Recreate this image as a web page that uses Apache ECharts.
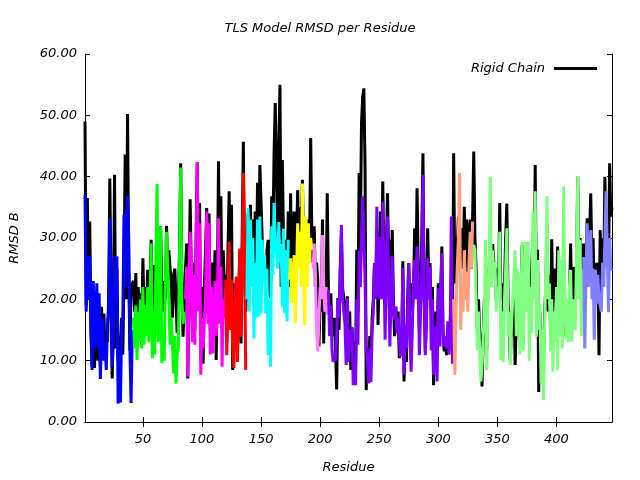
<!DOCTYPE html>
<html>
<head>
<meta charset="utf-8">
<title>TLS Model RMSD per Residue</title>
<script src="https://cdn.jsdelivr.net/npm/echarts@6/dist/echarts.min.js"></script>
<style>
html, body { margin: 0; padding: 0; background: #fff; }
#chart { width: 640px; height: 480px; }
</style>
</head>
<body>
<div id="chart"></div>
<script>
// RMSD B per residue, rigid chain (black), residues 1..447
var rigidChain = [
  49, 19, 36.5, 20, 32.7, 15.5, 9, 17, 8.8, 15,
  12, 10, 14, 9, 18.8, 12, 17.7, 11, 15, 13,
  20, 39.7, 22, 7.1, 16, 40.3, 12, 25, 10, 14,
  12, 17, 11, 24, 43.6, 20, 50.2, 25, 11.7, 22,
  22.6, 23, 18, 24.3, 16, 22, 17, 21, 15, 26.7,
  18, 22, 15, 24.8, 17, 22, 29.7, 20, 25.6, 16,
  22, 24, 17, 21, 31.9, 22, 18, 23, 20, 32,
  25, 28, 25, 22.6, 17, 24, 25, 20, 14.5, 20,
  28, 42.2, 22, 13.9, 20, 20, 29.1, 7.1, 20, 36.3,
  24, 14, 26, 15, 30, 42.4, 22, 35.7, 10, 22,
  9.5, 22, 28, 34.9, 20, 34, 15, 26, 25.3, 18,
  28, 10.1, 22, 42.5, 20, 36.8, 18, 28, 22, 24,
  13, 28, 37.6, 20, 35.4, 8.5, 22.6, 15, 21.5, 12,
  20, 28, 12.8, 30, 45.7, 25, 18, 25, 34, 22,
  35.4, 26, 33, 20, 34.3, 24, 39, 28, 41.9, 35.7,
  29.7, 23, 27, 20, 28, 29.7, 22, 20.2, 36.8, 30,
  43.8, 52, 40, 30, 45, 55, 22, 42.7, 30, 25,
  29.7, 24, 34.3, 22, 37.3, 23.2, 30, 34.3, 25, 30,
  37.8, 27.5, 35, 30, 39.5, 28, 30, 33, 25, 33,
  28, 46.3, 30, 26, 31.9, 22, 26, 23.2, 12.3, 20,
  18, 33, 12.8, 25, 20, 37.3, 21.5, 18, 21, 15,
  14, 17, 12, 5.3, 20.2, 15, 25, 30.7, 22, 20.2,
  18, 16, 20.5, 14, 18, 8.5, 15.3, 10, 13, 9,
  28.1, 18, 40.6, 30, 48.7, 53, 54.4, 41.7, 5.2, 12,
  8.4, 14, 10, 16.9, 20, 25.9, 22, 31.3, 15.8, 25,
  34.3, 21.5, 39.2, 25, 19.3, 28, 37.3, 26, 29.7, 22,
  31.3, 20, 14, 18.8, 15, 18, 10.4, 14, 12, 26.2,
  6.6, 14, 9.8, 20, 25.9, 18, 22.6, 18, 21.5, 31.6,
  22, 38.1, 25, 15, 20, 30, 43.8, 22, 11.5, 18,
  31.6, 22, 25.9, 18, 22, 6, 14, 18, 12, 22.6,
  18, 20, 28.6, 15, 11.5, 14, 10.9, 14.3, 12, 16,
  20, 15, 43.8, 22.6, 30, 28, 33.5, 25, 30, 31.6,
  25, 35.1, 28, 33, 24, 30, 33, 25, 33, 44.1,
  30, 25, 15, 20, 15, 12, 5.8, 14, 20, 15.8,
  12, 22, 25, 28, 24, 29, 26, 24.8, 20, 25,
  22, 35.7, 20, 22.6, 18, 22, 30, 35.6, 20, 15,
  9.8, 18, 14, 22, 9.3, 16, 20, 15, 18, 22,
  28.9, 20, 25, 26.9, 20, 22, 18, 20, 20, 29.7,
  22, 41.9, 20, 28.1, 4.9, 18, 10, 14, 10, 18,
  22, 32.4, 18, 24, 15, 29.8, 18, 22, 25, 20,
  28.6, 20, 18, 24, 18, 25.9, 20, 14, 18, 13.9,
  20, 29.1, 18, 22, 25.3, 20, 25, 40, 22, 30,
  20, 26, 29.1, 20, 26, 33.2, 24, 30, 37.3, 26,
  30, 20, 25.9, 22, 26, 10.9, 31.3, 22, 30, 25,
  40, 28, 30, 24, 42.2, 33.5, 35
];

// RMSD B per residue, TLS model (coloured by group), residues 1..447
var tlsModel = [
  37, 18, 27, 20, 27, 15, 8.5, 23, 12, 17,
  22.6, 12, 21, 7, 14, 17, 10, 12.5, 8.5, 16,
  18, 33.2, 33, 9, 14, 27, 20, 27, 3, 12,
  3.2, 15, 17, 33.8, 22, 33.8, 36.9, 30, 12, 3.1,
  15, 17, 12, 19, 10.1, 18, 13, 20, 12, 22,
  12.6, 19, 14, 22, 13, 19, 29.1, 10.4, 18, 11,
  26, 38.8, 13, 17, 31.9, 9.6, 15, 10, 22, 31,
  31, 20, 12.6, 17, 13, 7.9, 14, 6.3, 11, 12,
  27.5, 41.5, 20, 16, 18, 20, 25.3, 7.4, 22, 31,
  27, 13, 24, 12.6, 28, 42.4, 18, 32.4, 7.7, 17,
  12, 17, 20, 34.3, 16, 32.4, 11, 22, 11.2, 15,
  23, 14, 18, 33.2, 16, 25.3, 9, 20, 17, 23.2,
  10.9, 20, 29.4, 15, 23.2, 12, 8.8, 20, 23.7, 9.8,
  18, 28.3, 13.9, 25, 40.6, 30.2, 8.5, 20, 34.9, 18,
  33, 22, 30, 13.6, 26, 17, 33, 17.2, 33.5, 17.7,
  29.7, 23, 27.2, 17.7, 25, 10.9, 20, 9, 31.9, 24,
  35.7, 30, 29.7, 25, 32.6, 26, 29, 18.8, 31.5, 17.7,
  28, 16.4, 29.7, 23.2, 26.7, 19.4, 22, 27.2, 16.1, 24,
  32.4, 25, 31, 22, 38.9, 25, 15.8, 33.5, 22, 32.4,
  26, 30, 28, 25, 29.1, 24, 15, 11.5, 17.2, 22,
  20, 30.5, 22.6, 18, 22, 17.5, 21.5, 14, 19, 12,
  9.8, 11, 10, 14, 20, 17, 24, 32.1, 20, 20.2,
  16, 9.3, 20.2, 9.8, 15, 12, 15.5, 6, 8, 6,
  20, 12.6, 27.9, 22, 30, 36.8, 36.8, 23, 11.7, 10,
  6.3, 12, 6.5, 14.9, 18, 25.9, 20, 35.1, 22.6, 20,
  30.2, 20, 35.9, 25, 13.4, 25, 33.5, 22, 12.3, 20,
  27, 18, 16.7, 18.8, 14.5, 17, 14, 10.7, 13, 25.1,
  7.7, 15.9, 12, 18, 25.9, 14, 8.2, 15, 22.6, 26.4,
  20, 28.6, 22, 10.9, 18, 25, 40.3, 20, 10.9, 16,
  26.7, 20, 25.3, 11.7, 20, 7.7, 12, 15.6, 6.6, 21.8,
  12.3, 22, 27.5, 12.3, 14, 13, 12, 16.4, 11, 14,
  33.5, 9.5, 20, 7.7, 18, 25, 30, 40.6, 15, 22,
  18, 28, 20, 24.5, 18, 26, 31, 25, 32.7, 28.9,
  28, 20, 11.7, 18, 12, 6.6, 9, 14, 18, 29.7,
  8.5, 20, 25, 40, 22, 28, 24, 26.1, 18, 22,
  20, 31, 10.1, 18, 9.8, 20, 25, 31.6, 13.9, 18,
  9.3, 16, 20, 24, 28, 14, 25, 22.6, 11, 20,
  29.4, 11.7, 22, 29.4, 18, 29.4, 10, 22, 14.5, 34.3,
  20, 37.6, 13.9, 26.4, 15, 19.3, 6.3, 15, 3.6, 16,
  25, 36.8, 20, 22.6, 11.5, 20, 8.2, 18, 13, 22,
  8.5, 28, 14, 26.4, 12, 38.4, 22, 13.4, 20, 13,
  22, 24.8, 13.1, 20, 17.2, 15, 28, 40, 20, 29.7,
  14, 25, 26.9, 12, 24, 32.4, 22, 28, 31.3, 20,
  25, 13.4, 24.8, 19.3, 24, 20, 20, 18, 26, 22,
  30, 37.6, 28.1, 17.9, 30, 24.8, 25
];

// first residue of each TLS group
var groupStarts = [1, 42, 86, 120, 138, 174, 194, 207, 313, 330, 423];
var groupColors = ['#0000ff', '#00ff00', '#ff00ff', '#ff0000', '#00ffff', '#ffff00',
                   '#ff80ff', '#8000ff', '#ffa07a', '#80ff80', '#8080ff'];

var xTicks = [50, 100, 150, 200, 250, 300, 350, 400];

var chart = echarts.init(document.getElementById('chart'), null, { renderer: 'canvas' });

function points(values, from, to) {
  var pts = [];
  for (var r = from; r <= to; r++) {
    pts.push([r, values[r - 1]]);
  }
  return pts;
}

var font = { fontFamily: 'DejaVu Sans', fontStyle: 'italic', fontSize: 13, color: '#000' };
var lastResidue = rigidChain.length;

var series = [{
  name: 'Rigid Chain',
  type: 'line',
  data: points(rigidChain, 1, lastResidue),
  showSymbol: false,
  lineStyle: { color: '#000', width: 3 },
  itemStyle: { color: '#000' },
  z: 2
}];

// one series per TLS group, drawn over the black line
for (var g = 0; g < groupStarts.length; g++) {
  var end = g + 1 < groupStarts.length ? groupStarts[g + 1] - 1 : lastResidue;
  series.push({
    name: 'TLS group ' + (g + 1),
    type: 'line',
    data: points(tlsModel, groupStarts[g], end),
    showSymbol: false,
    lineStyle: { color: groupColors[g], width: 3 },
    itemStyle: { color: groupColors[g] },
    z: 3
  });
}

var axisLine = { show: true, lineStyle: { color: '#000', width: 1 } };

var option = {
  animation: false,
  backgroundColor: '#fff',
  title: {
    text: 'TLS Model RMSD per Residue',
    left: 'center',
    top: 17,
    textStyle: { fontFamily: 'DejaVu Sans', fontStyle: 'italic', fontWeight: 'normal', fontSize: 13, color: '#000' }
  },
  legend: {
    data: [{ name: 'Rigid Chain', icon: 'rect' }],
    right: 38,
    top: 57,
    align: 'right',
    itemWidth: 43,
    itemHeight: 3,
    itemStyle: { color: '#000' },
    textStyle: { fontFamily: 'DejaVu Sans', fontStyle: 'italic', fontSize: 13, color: '#000', padding: [0, 4, 0, 0] }
  },
  grid: { left: 85, right: 28, top: 54, bottom: 58 },
  xAxis: [{
    type: 'value',
    min: 1,
    max: lastResidue,
    name: 'Residue',
    nameLocation: 'middle',
    nameGap: 39,
    nameTextStyle: font,
    axisLine: axisLine,
    axisTick: { show: true, inside: true, length: 5, customValues: xTicks, lineStyle: { color: '#000' } },
    axisLabel: { show: true, margin: 11, customValues: xTicks, fontFamily: 'DejaVu Sans', fontStyle: 'italic', fontSize: 13, color: '#000' },
    splitLine: { show: false }
  }, {
    type: 'value',
    position: 'top',
    min: 1,
    max: lastResidue,
    axisLine: axisLine,
    axisTick: { show: true, inside: true, length: 5, customValues: xTicks, lineStyle: { color: '#000' } },
    axisLabel: { show: false },
    splitLine: { show: false }
  }],
  yAxis: [{
    type: 'value',
    min: 0,
    max: 60,
    interval: 10,
    name: 'RMSD B',
    nameLocation: 'middle',
    nameGap: 64,
    nameTextStyle: font,
    axisLine: axisLine,
    axisTick: { show: true, inside: true, length: 5, lineStyle: { color: '#000' } },
    axisLabel: {
      margin: 8,
      fontFamily: 'DejaVu Sans', fontStyle: 'italic', fontSize: 13, color: '#000',
      formatter: function (v) { return v.toFixed(2); }
    },
    splitLine: { show: false }
  }, {
    type: 'value',
    position: 'right',
    min: 0,
    max: 60,
    interval: 10,
    axisLine: axisLine,
    axisTick: { show: true, inside: true, length: 5, lineStyle: { color: '#000' } },
    axisLabel: { show: false },
    splitLine: { show: false }
  }],
  series: series
};

chart.setOption(option);
</script>
</body>
</html>
